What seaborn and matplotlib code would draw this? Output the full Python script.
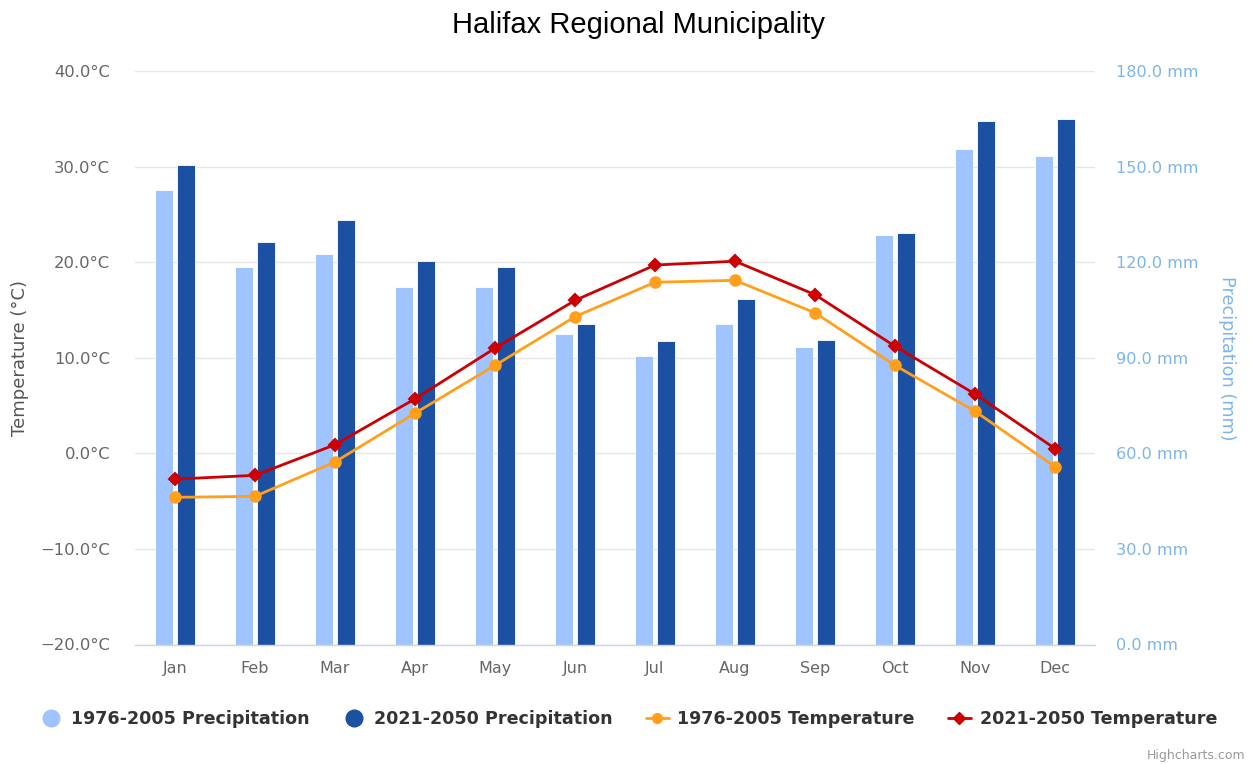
import numpy as np
import pandas as pd
import matplotlib
matplotlib.use("Agg")
import matplotlib.pyplot as plt
import seaborn as sns
from matplotlib.lines import Line2D

# ---- data ----
months = ["Jan", "Feb", "Mar", "Apr", "May", "Jun", "Jul", "Aug", "Sep", "Oct", "Nov", "Dec"]
precip_1976_2005 = [142.7, 118.5, 122.5, 112.2, 112.2, 97.5, 90.6, 100.5, 93.5, 128.4, 155.4, 153.4]
precip_2021_2050 = [150.4, 126.4, 133.2, 120.5, 118.5, 100.5, 95.4, 108.3, 95.5, 129.3, 164.2, 165.0]
temp_1976_2005 = [-4.6, -4.5, -0.9, 4.2, 9.2, 14.3, 17.9, 18.1, 14.7, 9.2, 4.4, -1.4]
temp_2021_2050 = [-2.7, -2.3, 0.9, 5.7, 11.0, 16.0, 19.7, 20.1, 16.6, 11.2, 6.2, 0.5]
precip_series = ["1976-2005 Precipitation", "2021-2050 Precipitation"]
temp_series = ["1976-2005 Temperature", "2021-2050 Temperature"]
temp_ticks = [-20, -10, 0, 10, 20, 30, 40]
precip_ticks = [0, 30, 60, 90, 120, 150, 180]

c_light = "#a0c4ff"
c_dark = "#1c50a3"
c_orange = "#ff9f1c"
c_red = "#cc0000"

df_p = pd.DataFrame({
    "month": months * 2,
    "value": precip_1976_2005 + precip_2021_2050,
    "series": [precip_series[0]] * 12 + [precip_series[1]] * 12,
})
df_t = pd.DataFrame({
    "month": months * 2,
    "value": temp_1976_2005 + temp_2021_2050,
    "series": [temp_series[0]] * 12 + [temp_series[1]] * 12,
})

sns.set_style("white")
plt.rcParams["font.family"] = ["DejaVu Sans"]

W, H = 1252, 764
fig = plt.figure(figsize=(W / 100, H / 100), dpi=100)
left, right, top, bottom = 135, 1095, 71, 644.5
ax_p = fig.add_axes([left / W, 1 - bottom / H, (right - left) / W, (bottom - top) / H])
ax_t = ax_p.twinx()

# bars (precipitation, right axis)
sns.barplot(data=df_p, x="month", y="value", hue="series", order=months,
            hue_order=precip_series, palette=[c_light, c_dark], width=0.53, gap=0.16,
            edgecolor="white", linewidth=0.6, ax=ax_p, legend=False, saturation=1)

# lines (temperature, left axis)
sns.pointplot(data=df_t, x="month", y="value", hue="series", order=months,
              hue_order=temp_series, palette=[c_orange, c_red], markers=["o", "D"],
              linestyles=["-", "-"], errorbar=None, ax=ax_t, legend=False,
              markersize=7.5, linewidth=2)
# shrink diamond marker slightly
for ln in ax_t.lines:
    if ln.get_marker() == "D":
        ln.set_markersize(6.2)

for ax in (ax_p, ax_t):
    ax.set_xlim(-0.5, 11.5)
    for s in ax.spines.values():
        s.set_visible(False)
    ax.set_xlabel("")

ax_p.set_ylim(0, 180)
ax_t.set_ylim(-20, 40)

# precipitation axis on right
ax_p.yaxis.tick_right()
ax_p.yaxis.set_label_position("right")
ax_p.set_yticks(precip_ticks)
ax_p.set_yticklabels([f"{v:.1f} mm" for v in precip_ticks], color="#7cb5ec", fontsize=11.6)
ax_p.tick_params(axis="y", length=0, pad=15)
ax_p.set_ylabel("Precipitation (mm)", color="#7cb5ec", fontsize=12.7, rotation=270, labelpad=30)
ax_p.yaxis.set_label_coords(1 + (1227 - right) / (right - left), 0.5)
ax_p.yaxis.label.set_va("center")
ax_p.yaxis.grid(True, color="#e6e6e6", linewidth=1)
ax_p.set_axisbelow(True)
ax_p.xaxis.grid(False)

# temperature axis on left
ax_t.yaxis.tick_left()
ax_t.yaxis.set_label_position("left")
ax_t.set_yticks(temp_ticks)
ax_t.set_yticklabels([f"{v:.1f}°C".replace("-", "\u2212") for v in temp_ticks], color="#666666", fontsize=11.8)
ax_t.tick_params(axis="y", length=0, pad=18)
ax_t.set_ylabel("Temperature (°C)", color="#555555", fontsize=13)
ax_t.yaxis.set_label_coords(-(left - 20) / (right - left), 0.5)
ax_t.yaxis.label.set_va("center")
ax_t.grid(False)
ax_t.set_xticks([])

ax_p.set_xticks(range(len(months)))
ax_p.set_xticklabels(months, color="#666666", fontsize=11.5)
ax_p.tick_params(axis="x", length=0, pad=12)
ax_p.spines["bottom"].set_visible(True)
ax_p.spines["bottom"].set_color("#ccd6eb")
ax_p.spines["bottom"].set_linewidth(1)

fig.text(639 / W, 1 - 25 / H, "Halifax Regional Municipality", ha="center", va="center",
         fontsize=21, family="Liberation Sans", color="black")

handles = [
    Line2D([], [], marker="o", linestyle="", markersize=12, color=c_light),
    Line2D([], [], marker="o", linestyle="", markersize=12, color=c_dark),
    Line2D([], [], marker="o", linestyle="-", markersize=7, linewidth=2, color=c_orange),
    Line2D([], [], marker="D", linestyle="-", markersize=6, linewidth=2, color=c_red),
]
labels = precip_series + temp_series
fig.legend(handles, labels, loc="center", bbox_to_anchor=(628 / W, 1 - 719 / H), ncol=4,
           frameon=False, prop={"weight": "bold", "size": 12.6}, labelcolor="#333333",
           handlelength=1.3, handletextpad=0.5, columnspacing=1.9)

fig.text(1 - 7 / W, 1 - 755 / H, "Highcharts.com", ha="right", va="center", color="#999999", fontsize=9)

fig.savefig("out.png", dpi=100)
